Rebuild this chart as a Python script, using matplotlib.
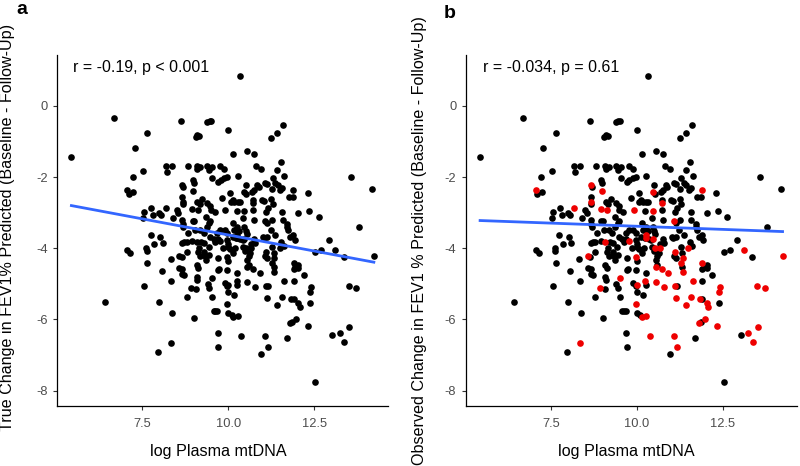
import matplotlib
matplotlib.use("Agg")
import matplotlib.pyplot as plt
import numpy as np

# points: log plasma mtDNA, change in FEV1 % predicted,
# and whether the point is drawn red in panel b (1 = red)
pontos = """
5.44 -1.44 0
6.68 -0.35 0
6.42 -5.51 0
7.28 -1.19 0
7.65 -0.77 0
7.22 -2.00 0
7.05 -2.37 1
7.10 -2.48 0
7.23 -2.43 0
7.53 -1.82 0
7.07 -4.05 0
7.14 -4.12 0
7.56 -5.05 0
7.62 -4.00 0
7.63 -4.07 0
7.64 -4.40 0
7.53 -3.16 0
7.56 -2.98 0
7.75 -2.88 0
7.82 -3.06 0
7.74 -3.62 0
7.85 -3.87 0
7.98 -3.02 0
8.04 -3.06 0
8.01 -3.67 0
8.09 -3.84 0
8.06 -4.65 0
7.99 -5.52 0
7.96 -6.92 0
8.18 -2.87 1
8.18 -1.68 0
8.21 -1.85 0
8.35 -1.70 0
8.32 -4.29 0
8.33 -4.92 0
8.37 -5.81 0
8.33 -6.67 1
8.40 -3.16 0
8.50 -2.92 0
8.55 -3.02 0
8.58 -4.21 1
8.64 -4.25 0
8.63 -0.41 0
8.66 -2.22 1
8.69 -2.27 0
8.65 -2.55 0
8.67 -2.69 1
8.67 -2.75 0
8.65 -3.20 0
8.67 -3.32 0
8.69 -3.40 0
8.65 -3.86 0
8.58 -4.54 0
8.65 -4.59 0
8.65 -4.72 0
8.72 -4.76 0
8.82 -1.70 0
8.79 -4.09 0
8.72 -3.83 0
8.79 -3.83 0
8.79 -5.38 0
8.96 -2.08 0
8.99 -2.17 0
8.98 -2.39 1
8.95 -2.89 1
8.96 -3.23 0
9.00 -3.24 0
9.03 -3.48 0
8.95 -3.79 0
9.08 -3.81 1
8.92 -5.11 1
9.06 -5.13 0
9.01 -5.95 0
9.05 -0.86 0
9.10 -0.82 0
9.16 -0.84 0
9.08 -1.70 0
9.10 -1.77 0
9.18 -1.73 0
9.10 -2.71 0
9.17 -2.76 0
9.23 -2.61 0
9.12 -2.92 1
9.15 -3.98 0
9.13 -4.11 0
9.18 -4.23 0
9.08 -4.47 0
9.13 -4.54 0
9.08 -4.81 0
9.10 -4.89 0
9.30 -4.09 0
9.32 -4.22 0
9.35 -4.32 0
9.22 -3.83 0
9.30 -3.86 0
9.35 -3.12 0
9.37 -3.41 0
9.39 -2.74 0
9.47 -2.81 0
9.39 -1.70 0
9.44 -1.80 0
9.39 -0.44 0
9.46 -0.41 0
9.51 -0.41 0
9.43 -3.95 0
9.44 -4.19 0
9.40 -4.99 0
9.44 -5.11 0
9.52 -4.84 1
9.52 -5.36 0
9.47 -3.22 0
9.45 -3.28 0
9.54 -1.73 0
9.54 -2.03 0
9.49 -2.92 0
9.60 -2.99 0
9.57 -3.75 0
9.62 -3.81 0
9.57 -5.76 0
9.62 -5.76 0
9.67 -5.76 0
9.69 -6.38 0
9.71 -6.78 0
9.71 -4.62 0
9.74 -4.57 0
9.71 -4.28 0
9.69 -3.74 0
9.76 -3.80 1
9.76 -1.68 0
9.71 -2.13 0
9.78 -2.08 0
9.88 -2.03 0
9.96 -2.00 0
9.83 -2.58 0
9.88 -1.77 0
10.00 -0.67 0
9.90 -2.93 1
9.89 -3.48 0
9.96 -3.58 0
9.96 -3.77 0
10.00 -3.89 0
9.99 -3.96 0
10.05 -4.03 0
9.97 -4.25 1
9.99 -4.37 0
9.96 -4.61 0
9.89 -4.98 0
9.96 -5.05 0
10.00 -5.03 1
10.00 -5.22 0
9.97 -5.57 1
10.00 -5.83 0
10.10 -5.87 0
10.33 0.84 0
10.05 -2.44 0
10.07 -2.71 0
10.13 -2.64 0
10.18 -2.69 0
10.15 -1.36 0
10.27 -1.98 0
10.27 -2.71 0
10.33 -2.69 0
10.24 -2.95 0
10.15 -3.28 0
10.18 -3.48 0
10.25 -3.41 0
10.31 -3.50 0
10.26 -3.62 1
10.13 -3.69 0
10.22 -3.71 0
10.26 -3.72 1
10.34 -3.74 0
10.19 -4.00 0
10.15 -4.14 0
10.25 -4.70 0
10.24 -4.92 1
10.25 -5.03 0
10.18 -5.31 0
10.15 -5.92 1
10.27 -5.89 1
10.37 -6.45 1
10.44 -3.16 0
10.47 -2.95 1
10.47 -3.39 0
10.50 -3.50 0
10.53 -3.60 0
10.42 -3.77 0
10.47 -3.74 1
10.44 -3.95 0
10.52 -3.99 1
10.49 -4.07 0
10.54 -4.33 0
10.59 -4.23 0
10.50 -2.22 0
10.47 -2.41 1
10.52 -2.47 0
10.55 -1.26 0
10.54 -4.52 1
10.59 -4.47 0
10.54 -4.94 1
10.64 -4.14 0
10.67 -4.00 1
10.67 -3.89 0
10.73 -2.64 0
10.73 -2.74 1
10.70 -2.43 0
10.76 -2.36 0
10.75 -1.35 0
10.73 -2.92 0
10.75 -3.20 0
10.75 -3.74 0
10.78 -3.86 0
10.83 -2.22 0
10.88 -2.27 0
10.81 -1.69 0
10.95 -1.77 0
10.73 -4.59 1
10.79 -5.10 1
10.91 -4.70 1
10.95 -6.97 0
11.02 -3.67 0
11.05 -3.72 0
11.12 -3.69 0
10.99 -2.64 0
11.05 -2.68 0
11.07 -2.17 0
11.12 -2.20 0
11.10 -2.97 0
11.15 -2.88 0
11.08 -3.23 1
11.12 -3.30 0
11.09 -4.09 1
11.07 -4.23 0
11.12 -4.28 0
11.10 -5.05 1
11.16 -5.06 0
11.12 -5.41 1
11.08 -6.46 1
11.15 -6.76 1
11.25 -0.91 0
11.42 -0.77 0
11.59 -0.53 0
11.53 -1.58 0
11.41 -1.80 0
11.62 -1.96 0
11.29 -2.03 0
11.36 -2.17 0
11.43 -2.23 0
11.26 -2.34 0
11.51 -2.36 0
11.56 -2.30 0
11.25 -2.62 0
11.29 -2.76 0
11.26 -3.20 0
11.23 -3.48 0
11.36 -3.63 0
11.28 -3.95 0
11.32 -4.14 0
11.27 -4.42 1
11.33 -4.26 1
11.32 -4.52 0
11.33 -4.66 1
11.41 -5.59 1
11.56 -5.36 1
11.56 -2.97 0
11.58 -3.20 0
11.53 -3.81 0
11.49 -4.00 1
11.61 -3.93 0
11.71 -3.32 0
11.72 -3.39 0
11.73 -3.48 0
11.62 -4.91 1
11.70 -6.53 0
11.75 -2.55 0
11.87 -2.55 0
11.88 -2.36 1
11.80 -3.67 0
11.88 -3.63 0
11.93 -3.77 0
11.90 -4.42 1
11.95 -4.52 0
11.90 -4.59 0
12.04 -4.47 0
12.02 -4.56 0
11.90 -4.93 0
11.82 -5.42 1
11.90 -5.42 0
11.80 -6.11 1
11.86 -6.06 0
11.97 -6.00 1
12.04 -5.55 1
12.07 -5.64 1
12.02 -3.02 0
12.19 -4.75 0
12.31 -2.45 0
12.35 -2.94 0
12.40 -5.08 1
12.38 -5.22 1
12.38 -5.55 0
12.33 -6.17 1
12.52 -7.76 0
12.52 -4.11 0
12.63 -3.13 0
12.70 -4.05 0
12.92 -3.77 0
13.11 -4.05 1
13.01 -6.44 0
13.24 -6.39 1
13.37 -6.62 1
13.35 -4.25 0
13.58 -1.99 0
13.50 -5.06 1
13.72 -5.12 1
13.52 -6.20 1
13.79 -3.41 0
14.18 -2.33 0
14.23 -4.21 1
9.67 -3.58 0
9.76 -3.48 0
9.85 -4.00 0
9.47 -3.67 0
9.18 -3.48 0
9.28 -3.58 0
8.84 -3.58 0
"""

tabela = np.array([linha.split() for linha in pontos.strip().splitlines()], dtype=float)
log_mtdna = tabela[:, 0]
delta_fev1 = tabela[:, 1]
vermelho = tabela[:, 2] == 1

# fitted lines (ends at min / max of x)
ajuste_x = [5.44, 14.23]
ajuste_a_y = [-2.80, -4.39]
ajuste_b_y = [-3.22, -3.53]

rotulos = ["r = -0.19, p < 0.001", "r = -0.034, p = 0.61"]
titulos_y = ["True Change in FEV1% Predicted (Baseline - Follow-Up)",
             "Observed Change in FEV1 % Predicted (Baseline - Follow-Up)"]
xticks = [7.5, 10.0, 12.5]
yticks = [0, -2, -4, -6, -8]

plt.rcParams["font.family"] = ["Liberation Sans", "DejaVu Sans"]
plt.rcParams["axes.unicode_minus"] = False

fig = plt.figure(figsize=(8, 4.66), dpi=100)
ax_a = fig.add_axes([57.3 / 800, 60 / 466, 331 / 800, 351 / 466])
ax_b = fig.add_axes([466 / 800, 60 / 466, 331 / 800, 351 / 466])

# y label size: the reference label of panel a is about 407 px long
teste = fig.text(0, 0, titulos_y[0], fontsize=10, rotation=90)
fig.canvas.draw()
altura = teste.get_window_extent().height
teste.remove()
tam_y = 10 * 407 / altura

for i, ax in enumerate([ax_a, ax_b]):
    if i == 0:
        ax.scatter(log_mtdna, delta_fev1, s=23, color="black", linewidths=0, zorder=2)
        ax.plot(ajuste_x, ajuste_a_y, color="#3366FF", lw=2, zorder=3)
    else:
        ax.scatter(log_mtdna[~vermelho], delta_fev1[~vermelho], s=23, color="black",
                   linewidths=0, zorder=2)
        ax.scatter(log_mtdna[vermelho], delta_fev1[vermelho], s=23, color="#EE0000",
                   linewidths=0, zorder=2)
        ax.plot(ajuste_x, ajuste_b_y, color="#3366FF", lw=2, zorder=3)

    ax.set_xlim(5.03, 14.65)
    ax.set_ylim(-8.43, 1.43)
    ax.set_xticks(xticks)
    ax.set_xticklabels(["%.1f" % v for v in xticks])
    ax.set_yticks(yticks)
    ax.set_yticklabels([str(v) for v in yticks])
    for lado in ["top", "right"]:
        ax.spines[lado].set_visible(False)
    for lado in ["left", "bottom"]:
        ax.spines[lado].set_linewidth(0.9)
        ax.spines[lado].set_color("black")
    ax.tick_params(direction="out", length=3, width=0.8, color="#333333",
                   labelcolor="#4D4D4D", labelsize=9.3, pad=4)
    ax.tick_params(axis="x", pad=5.5)

    ax.set_xlabel("log Plasma mtDNA", fontsize=11.6)
    ax.xaxis.set_label_coords(0.485, -0.108)
    ax.set_ylabel(titulos_y[i], fontsize=tam_y)
    ax.yaxis.set_label_coords(-0.128 if i == 0 else -0.119, 0.51 if i == 0 else 0.47)

    ax.text(0.0465 if i == 0 else 0.052, 0.963, rotulos[i], transform=ax.transAxes,
            fontsize=11.5, ha="left", va="center", color="black")

fig.text(21.7 / 800, 1 - 10 / 466, "a", fontsize=14, fontweight="bold", ha="center", va="center")
fig.text(450 / 800, 1 - 13.3 / 466, "b", fontsize=14, fontweight="bold", ha="center", va="center")

fig.savefig("out.png", dpi=100)
plt.close(fig)
